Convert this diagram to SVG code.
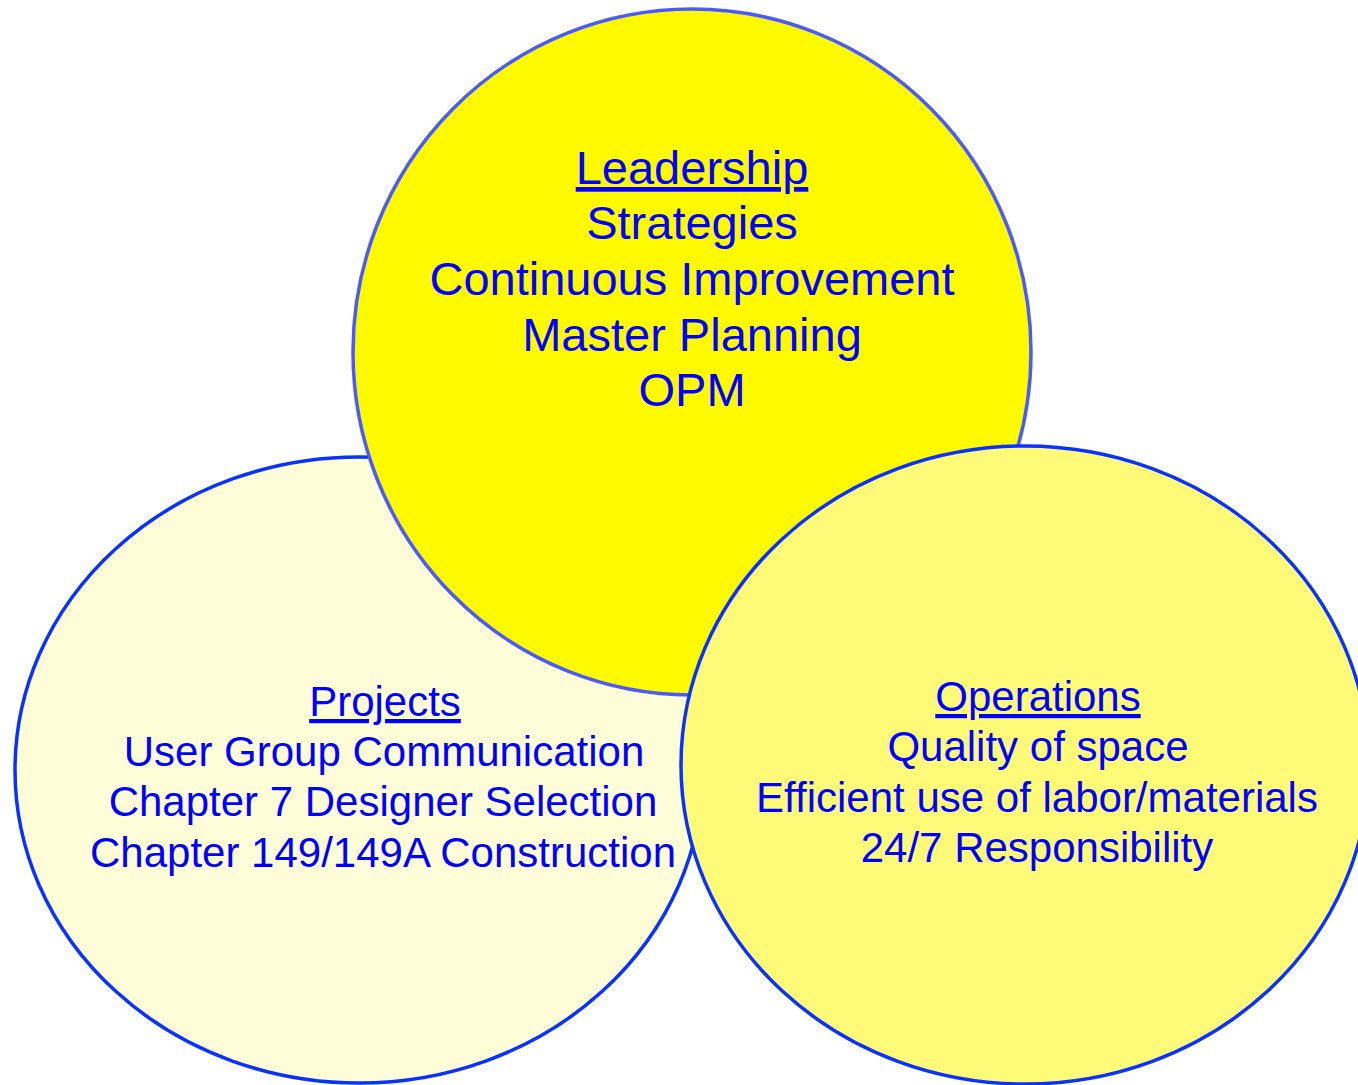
<svg xmlns="http://www.w3.org/2000/svg" width="1358" height="1085" viewBox="0 0 1358 1085">
<style>
.t{font-family:"Liberation Sans",Arial,sans-serif;fill:#0000FF;text-anchor:middle}
.big{font-size:47px}
.sm{font-size:42px}
.u{text-decoration:underline}
.c{stroke-width:3.5}
</style>
<rect width="1358" height="1085" fill="#FFFFFF"/>
<g id="projects">
<ellipse class="c" cx="359" cy="770" rx="344" ry="313" fill="#FFFDD8" stroke="#0A32FF"/>
<text class="t sm" x="385" y="716"><tspan class="u">Projects</tspan></text>
<text class="t sm" x="384" y="766">User Group Communication</text>
<text class="t sm" x="383" y="816">Chapter 7 Designer Selection</text>
<text class="t sm" x="383" y="867">Chapter 149/149A Construction</text>
</g>
<g id="leadership">
<ellipse class="c" cx="692" cy="352" rx="339" ry="343" fill="#FFFA00" stroke="#4A5AFF"/>
<text class="t big" x="692" y="184"><tspan class="u">Leadership</tspan></text>
<text class="t big" x="692" y="239">Strategies</text>
<text class="t big" x="692" y="295">Continuous Improvement</text>
<text class="t big" x="692" y="351">Master Planning</text>
<text class="t big" x="692" y="406">OPM</text>
</g>
<g id="operations">
<ellipse class="c" cx="1025" cy="765" rx="344" ry="319" fill="#FFFA78" stroke="#0A32FF"/>
<text class="t sm" x="1038" y="711"><tspan class="u">Operations</tspan></text>
<text class="t sm" x="1038" y="761">Quality of space</text>
<text class="t sm" x="1037" y="812">Efficient use of labor/materials</text>
<text class="t sm" x="1037" y="862">24/7 Responsibility</text>
</g>
<g id="connectors"/>
</svg>
